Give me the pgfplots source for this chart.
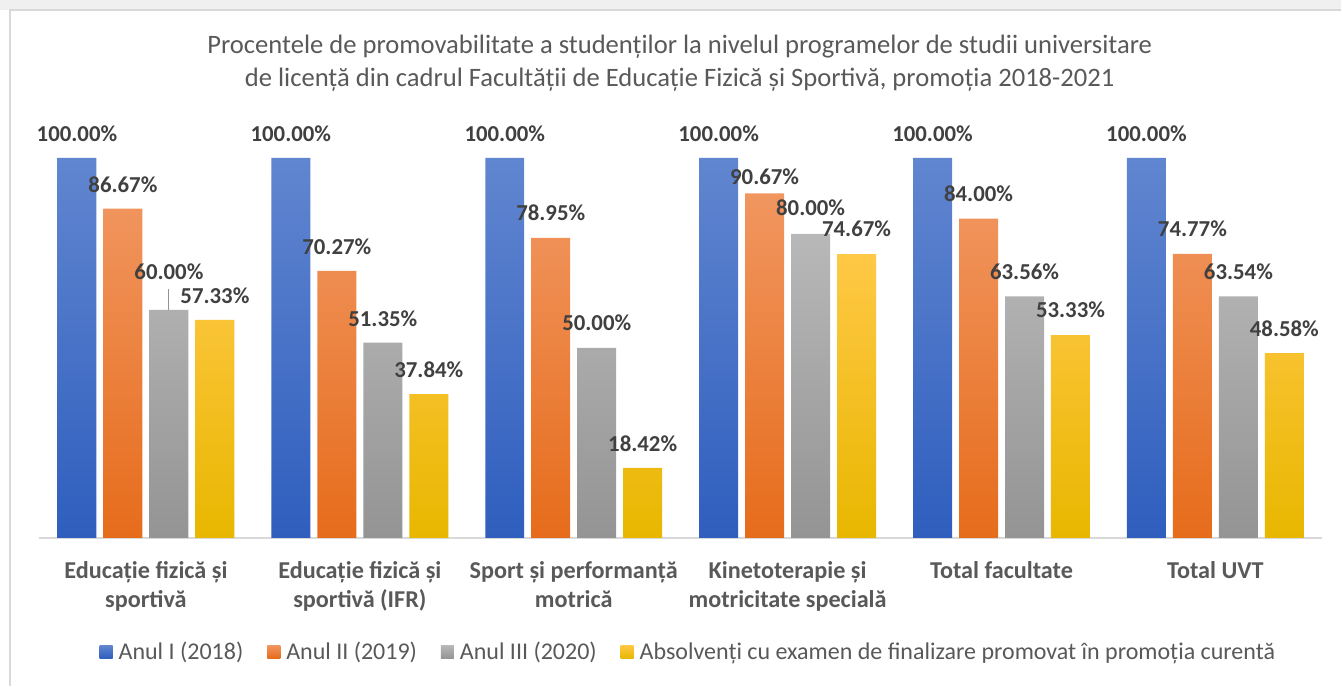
\documentclass[border=0pt]{standalone}
\usepackage{pgfplots}
\pgfplotsset{compat=1.18}
\usepackage{pgfplotstable}
\usepackage{fontspec}
\setmainfont{Carlito}
\definecolor{txt}{HTML}{595959}
\definecolor{lab}{HTML}{404040}
\definecolor{bluT}{HTML}{6186D0}
\definecolor{bluB}{HTML}{2F5EBE}
\definecolor{orT}{HTML}{F19660}
\definecolor{orB}{HTML}{E66C1B}
\definecolor{grT}{HTML}{B8B8B8}
\definecolor{grB}{HTML}{949494}
\definecolor{yeT}{HTML}{FFC846}
\definecolor{yeB}{HTML}{E8B700}
\definecolor{frame}{HTML}{D9D9D9}

\pgfplotstableread{
x y dy
0 100 24
1 100 24
2 100 24
3 100 24
4 100 24
5 100 24
}\tA
\pgfplotstableread{
x y dy
0 86.67 24
1 70.27 24
2 78.95 25
3 90.67 17
4 84.00 25
5 74.77 25
}\tB
\pgfplotstableread{
x y dy err
0 60.00 38 5.5
1 51.35 24 0
2 50.00 25 0
3 80.00 26 0
4 63.56 25 0
5 63.54 25 0
}\tC
\pgfplotstableread{
x y dy
0 57.33 24
1 37.84 24
2 18.42 24
3 74.67 25
4 53.33 25
5 48.58 25
}\tD

\begin{document}
\begin{tikzpicture}[x=1pt,y=1pt]
\path[fill=white] (0,0) rectangle (1342,686);
\fill[frame!40] (0,676) rectangle (1342,686);
\draw[frame, line width=1.2pt] (10,0) -- (10,676) -- (1342,676);
\node[text=txt, align=center, font=\fontsize{26.6}{33}\selectfont] at (680,622.5)
 {Procentele de promovabilitate a studenților la nivelul programelor de studii universitare\\
  de licență din cadrul Facultății de Educație Fizică și Sportivă, promoția 2018-2021};
\begin{axis}[
  at={(39pt,148pt)}, anchor=south west,
  scale only axis, width=1284pt, height=380pt,
  xmin=-0.5, xmax=5.5, ymin=0, ymax=100,
  clip=false,
  axis y line=none,
  axis x line*=bottom,
  x axis line style={frame, line width=2pt, -},
  xtick={0,1,2,3,4,5},
  major tick length=0pt,
  xticklabels={Educație fizică și\\sportivă, Educație fizică și\\sportivă (IFR), Sport și performanță\\motrică, Kinetoterapie și\\motricitate specială, Total facultate, Total UVT},
  xticklabel style={align=center, anchor=north, yshift=-20pt, text=txt, font=\bfseries\fontsize{24.2}{29}\selectfont},
  ybar, bar width=39pt,
  nodes near coords={\pgfmathprintnumber[assume math mode=true,fixed,fixed zerofill,precision=2]{\pgfplotspointmeta}\%},
  point meta=y,
  visualization depends on={\thisrow{dy} \as \labdy},
  every node near coord/.append style={anchor=center, yshift=\labdy pt, text=lab, font=\bfseries\fontsize{22.8}{24}\selectfont},
  legend style={at={(0.506,-0.30)}, anchor=center, draw=none, fill=none, legend columns=4,
    font=\fontsize{24}{26}\selectfont, text=txt,
    /tikz/every even column/.append style={column sep=22pt},
    /tikz/every odd column/.append style={column sep=4pt}},
  legend image code/.code={\path[#1,draw=none] (0pt,-6.5pt) rectangle (13pt,6.5pt);},
]
\addplot[draw=none, top color=bluT, bottom color=bluB, bar shift=-69pt] table[x=x,y=y] {\tA};
\addplot[draw=none, top color=orT, bottom color=orB, bar shift=-23pt] table[x=x,y=y] {\tB};
\addplot[draw=none, top color=grT, bottom color=grB, bar shift=23pt,
  error bars/.cd, y dir=plus, y explicit, error mark=none,
  error bar style={color=grB, line width=1pt}] table[x=x,y=y,y error=err] {\tC};
\addplot[draw=none, top color=yeT, bottom color=yeB, bar shift=69pt] table[x=x,y=y] {\tD};
\legend{Anul I (2018), Anul II (2019), Anul III (2020), Absolvenți cu examen de finalizare promovat în promoția curentă}
\end{axis}
\end{tikzpicture}
\end{document}
